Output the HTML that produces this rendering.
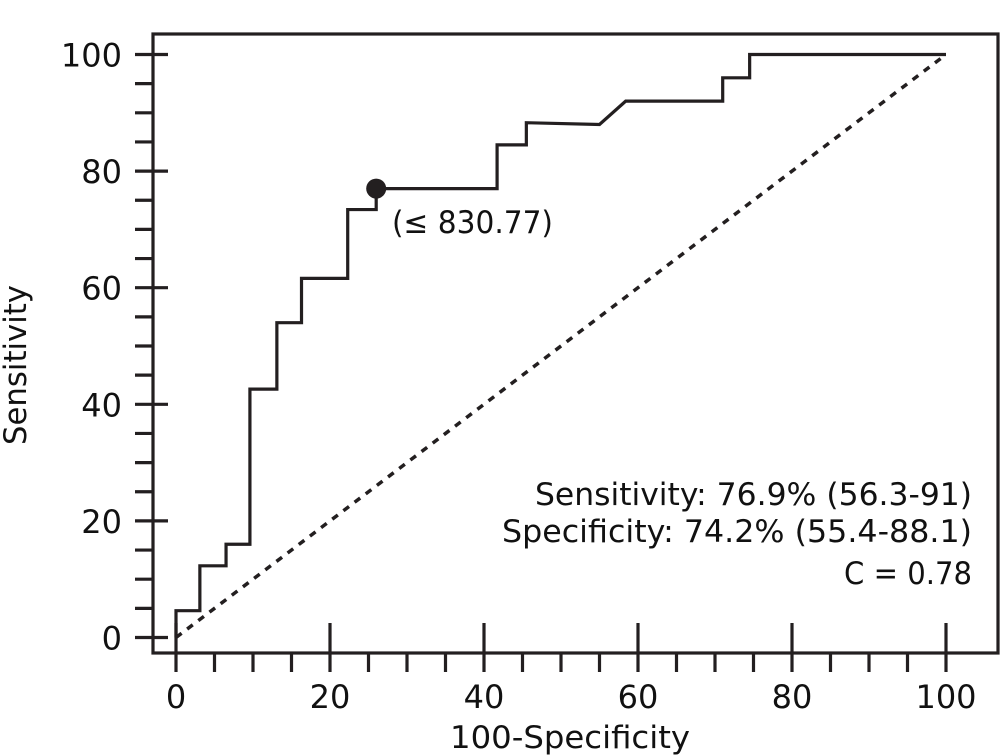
<!DOCTYPE html>
<html><head><meta charset="utf-8"><style>
html,body{margin:0;padding:0;background:#fff;}
svg{display:block;}
text{font-family:"DejaVu Sans","Liberation Sans",sans-serif;fill:#111;}
</style></head><body>
<svg id="chart" width="1001" height="756" viewBox="0 0 1001 756" xmlns="http://www.w3.org/2000/svg">
<rect x="153" y="34" width="845" height="619" fill="none" stroke="#231f20" stroke-width="3.2"/>
<g id="axes"></g>
<g id="series"></g>
<text transform="translate(26,365) rotate(-90)" text-anchor="middle" font-size="31" textLength="160" lengthAdjust="spacingAndGlyphs">Sensitivity</text>
<text x="570" y="748" text-anchor="middle" font-size="31" textLength="240" lengthAdjust="spacingAndGlyphs">100-Specificity</text>
<text x="392" y="233" font-size="31" textLength="161" lengthAdjust="spacingAndGlyphs">(≤ 830.77)</text>
<text x="972" y="505" text-anchor="end" font-size="31" textLength="437" lengthAdjust="spacingAndGlyphs">Sensitivity: 76.9% (56.3-91)</text>
<text x="972" y="542" text-anchor="end" font-size="31" textLength="470" lengthAdjust="spacingAndGlyphs">Specificity: 74.2% (55.4-88.1)</text>
<text x="972" y="584" text-anchor="end" font-size="31" textLength="128" lengthAdjust="spacingAndGlyphs">C = 0.78</text>
</svg>
<script>
const rocX = [0,0,3.1,3.1,6.5,6.5,9.6,9.6,13.1,13.1,16.3,16.3,22.3,22.3,26,26,41.7,41.7,45.5,45.5,55,58.4,71,71,74.5,74.5,100];
const rocY = [0,4.6,4.6,12.3,12.3,16,16,42.6,42.6,54,54,61.6,61.6,73.4,73.4,77,77,84.5,84.5,88.3,88,92,92,96,96,100,100];
const cutoffPoint = [26,77];
const xTicks = [0,20,40,60,80,100];
const yTicks = [0,20,40,60,80,100];
const NS="http://www.w3.org/2000/svg";
const sx = v => 176 + v*7.7;
const sy = v => 637.5 - v*5.83;
function mk(tag, attrs, parent){const e=document.createElementNS(NS,tag);for(const k in attrs)e.setAttribute(k,attrs[k]);parent.appendChild(e);return e;}
const axes=document.getElementById('axes'), series=document.getElementById('series');
for(let v=0; v<=100; v+=5){
  const major = v%20===0;
  const x=sx(v);
  const t=mk('line',{x1:x,x2:x,y1:major?623:653,y2:672,stroke:'#231f20','stroke-width':3.2},axes);
  
  
  const y=sy(v);
  const u=mk('line',{x1:135,x2:major?168:153,y1:y,y2:y,stroke:'#231f20','stroke-width':3.2},axes);
  
  
}
xTicks.forEach(v=>{
  const t=mk('text',{x:sx(v),y:708,'text-anchor':'middle','font-size':32},axes);
  t.textContent=v;
  
  
});
yTicks.forEach(v=>{
  const t=mk('text',{x:122,y:sy(v)+12,'text-anchor':'end','font-size':32},axes);
  t.textContent=v;
  
  
});
const diag=mk('line',{x1:sx(0),y1:sy(0),x2:sx(100),y2:sy(100),stroke:'#231f20','stroke-width':3.5,'stroke-dasharray':'7 7'},series);


const pts=rocX.map((x,i)=>sx(x)+','+sy(rocY[i])).join(' ');
const roc=mk('polyline',{points:pts,fill:'none',stroke:'#231f20','stroke-width':3.2},series);


const dot=mk('ellipse',{cx:sx(cutoffPoint[0]),cy:sy(cutoffPoint[1]),rx:10,ry:10,fill:'#231f20'},series);


</script>
</body></html>
